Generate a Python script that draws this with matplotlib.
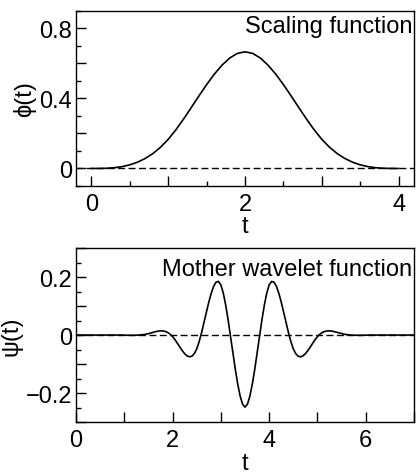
"""
Cubic B-spline scaling function and its mother wavelet, two stacked panels.
"""

import numpy as np
import matplotlib.pyplot as plt
from matplotlib.ticker import MultipleLocator

plt.rcParams['font.family'] = ['Liberation Sans', 'DejaVu Sans']
plt.rcParams['font.size'] = 17

# ----------------------------------------------------------------------
# Data
# ----------------------------------------------------------------------

# scaling function, sampled every 0.1 in t
t_phi = np.linspace(0.0, 4.0, 41)
phi = [
    0.0, 0.0002, 0.0013, 0.0045, 0.0107, 0.0208, 0.036, 0.0572, 0.0853, 0.1215,
    0.1667, 0.2212, 0.2827, 0.3482, 0.4147, 0.4792, 0.5387, 0.5902, 0.6307, 0.6572,
    0.6667,
    0.6572, 0.6307, 0.5902, 0.5387, 0.4792, 0.4147, 0.3482, 0.2827, 0.2212, 0.1667,
    0.1215, 0.0853, 0.0572, 0.036, 0.0208, 0.0107, 0.0045, 0.0013, 0.0002, 0.0,
]

# mother wavelet, sampled every 0.05 in t; flat zero outside 1 <= t <= 6
t_psi = np.linspace(0.0, 7.0, 141)
psi_mid = [
    -0.0005, -0.0007, -0.0008, -0.0009, -0.0008, -0.0006, -0.0001, 0.0006, 0.0016, 0.0030,
    0.0049, 0.0072, 0.0096, 0.0118, 0.0135, 0.0144, 0.0141, 0.0123, 0.0086, 0.0028,
    -0.0055, -0.0163, -0.0288, -0.0418, -0.0541, -0.0645, -0.0719, -0.0750, -0.0728, -0.0639,
    -0.0474, -0.0225, 0.0087, 0.0436, 0.0796, 0.1140, 0.1444, 0.1681, 0.1824, 0.1848,
    0.1726, 0.1444, 0.1029, 0.0519, -0.0048, -0.0633, -0.1197, -0.1702, -0.2111, -0.2384,
    -0.2484,
    -0.2384, -0.2111, -0.1702, -0.1197, -0.0633, -0.0048, 0.0519, 0.1029, 0.1444, 0.1726,
    0.1848, 0.1824, 0.1681, 0.1444, 0.1140, 0.0796, 0.0436, 0.0087, -0.0225, -0.0474,
    -0.0639, -0.0728, -0.0750, -0.0719, -0.0645, -0.0541, -0.0418, -0.0288, -0.0163, -0.0055,
    0.0028, 0.0086, 0.0123, 0.0141, 0.0144, 0.0135, 0.0118, 0.0096, 0.0072, 0.0049,
    0.0030, 0.0016, 0.0006, -0.0001, -0.0006, -0.0008, -0.0009, -0.0008, -0.0007, -0.0005,
]
psi = [0.0] * 20 + psi_mid + [0.0] * 20

phi_xticklabels = [0, 2, 4]
phi_yticklabels = [0, 0.4, 0.8]
psi_xticklabels = [0, 2, 4, 6]
psi_yticklabels = [-0.2, 0, 0.2]


def style_axis(ax):
    ax.tick_params(which='both', direction='in', top=False, right=False)
    ax.tick_params(which='major', length=7, width=1, pad=5)
    ax.tick_params(which='minor', length=3.5, width=1)
    ax.tick_params(axis='y', which='major', pad=3)
    for s in ax.spines.values():
        s.set_linewidth(1.0)


def fmt(v):
    if v == 0:
        return "0"
    return f"{v:g}".replace("-", "\u2212")


def main():
    fig = plt.figure(figsize=(4.16, 4.77), dpi=100)

    # top: scaling function
    ax1 = fig.add_axes([0.183, 0.608, 0.812, 0.367])
    ax1.axhline(0, color='black', lw=1.0, dashes=(5, 2.5))
    ax1.plot(t_phi, phi, color='black', lw=1.2)
    ax1.set_xlim(-0.2, 4.2)
    ax1.set_ylim(-0.1, 0.9)
    ax1.xaxis.set_minor_locator(MultipleLocator(0.5))
    ax1.yaxis.set_minor_locator(MultipleLocator(0.1))
    ax1.set_xticks(np.arange(0, 5), [fmt(v) if v in phi_xticklabels else "" for v in range(5)])
    yt = np.round(np.arange(0, 0.81, 0.2), 1)
    ax1.set_yticks(yt, [fmt(v) if v in phi_yticklabels else "" for v in yt])
    style_axis(ax1)
    ax1.set_xlabel("t", labelpad=0)
    ax1.set_ylabel("\u03d5(t)", labelpad=2)
    ax1.text(0.995, 0.88, "Scaling function", transform=ax1.transAxes,
             ha='right', va='baseline')

    # bottom: mother wavelet
    ax2 = fig.add_axes([0.183, 0.113, 0.812, 0.365])
    ax2.axhline(0, color='black', lw=1.0, dashes=(5, 2.5))
    ax2.plot(t_psi, psi, color='black', lw=1.2)
    ax2.set_xlim(0, 7)
    ax2.set_ylim(-0.3, 0.3)
    ax2.yaxis.set_minor_locator(MultipleLocator(0.05))
    ax2.set_xticks(np.arange(0, 8), [fmt(v) if v in psi_xticklabels else "" for v in range(8)])
    yt2 = np.round(np.arange(-0.3, 0.31, 0.1), 1)
    ax2.set_yticks(yt2, [fmt(v) if v in psi_yticklabels else "" for v in yt2])
    style_axis(ax2)
    ax2.set_xlabel("t", labelpad=1)
    ax2.set_ylabel("\u03c8(t)", labelpad=2)
    ax2.text(0.995, 0.843, "Mother wavelet function", transform=ax2.transAxes,
             ha='right', va='baseline')

    fig.savefig("out.png", dpi=100)


if __name__ == "__main__":
    main()
